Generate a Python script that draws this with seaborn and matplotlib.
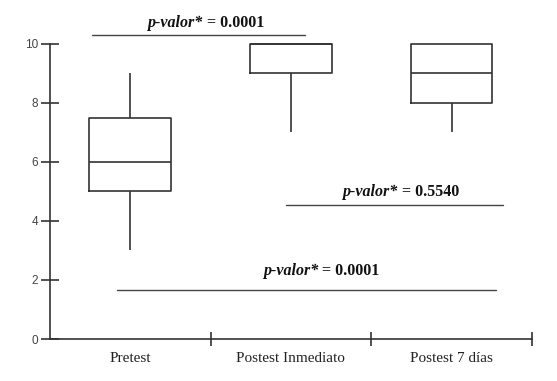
import numpy as np
import pandas as pd
import matplotlib
matplotlib.use("Agg")
import matplotlib.pyplot as plt
import seaborn as sns

categories = ["Pretest", "Postest Inmediato", "Postest 7 días"]
pretest = [3, 5, 5, 6, 6, 7.5, 7.5, 9]
postest_inmediato = [7, 9, 9, 10, 10, 10, 10, 10]
postest_7dias = [7, 8, 8, 9, 9, 10, 10, 10]
y_ticks = [0, 2, 4, 6, 8, 10]

# comparisons: (x_start, x_end, y_line, text_x, text_y, p-value)
comparisons = [
    (-0.24, 1.09, 10.3, 0.45, 10.72, "0.0001"),
    (0.97, 2.32, 4.54, 1.665, 4.98, "0.5540"),
    (-0.08, 2.28, 1.66, 1.17, 2.30, "0.0001"),
]

df = pd.DataFrame({
    "grupo": [categories[0]] * len(pretest) + [categories[1]] * len(postest_inmediato)
             + [categories[2]] * len(postest_7dias),
    "valor": pretest + postest_inmediato + postest_7dias,
})

sns.set_style("white")
line_col = "#333333"

fig = plt.figure(figsize=(5.57, 3.81), dpi=100)
ax = fig.add_axes([0.0898, 0.1102, 0.865, 0.852])

sns.boxplot(data=df, x="grupo", y="valor", order=categories, ax=ax,
            fill=False, color=line_col, linewidth=1.2, width=0.51,
            whis=(0, 100), showcaps=False)

ax.set_xlim(-0.5, 2.5)
ax.set_ylim(0, 11)
ax.set_xlabel("")
ax.set_ylabel("")

for s in ["top", "right"]:
    ax.spines[s].set_visible(False)
for s in ["left", "bottom"]:
    ax.spines[s].set_color(line_col)
    ax.spines[s].set_linewidth(1.2)
ax.spines["left"].set_bounds(0, 10)

ax.set_yticks(y_ticks)
ax.set_yticklabels([str(v) for v in y_ticks], family="Liberation Sans",
                   fontsize=8.5, color="#444444")
ax.tick_params(axis="y", direction="inout", length=13, width=1.2,
               color=line_col, pad=2, left=True)

ax.set_xticks([0.5, 1.5, 2.5])
ax.set_xticklabels([])
ax.set_xticks([0, 1, 2], minor=True)
ax.set_xticklabels(categories, minor=True, family="Liberation Serif",
                   fontsize=11, color="#222222")
ax.tick_params(axis="x", which="major", direction="inout", length=10,
               width=1.2, color=line_col, bottom=True)
ax.tick_params(axis="x", which="minor", length=0, pad=9)

for x0, x1, yl, tx, ty, pv in comparisons:
    ax.plot([x0, x1], [yl, yl], color="#444444", lw=1.0, clip_on=False)
    t1 = ax.text(tx, ty, "p-valor*", family="Liberation Serif",
                 fontsize=11.5, fontweight="bold", style="italic",
                 ha="right", va="center", color="#111111", clip_on=False)
    ax.annotate(" = " + pv, xy=(1, 0.5), xycoords=t1, ha="left", va="center",
                family="Liberation Serif", fontsize=11.5, fontweight="bold",
                color="#111111")

fig.savefig("out.png", dpi=100)
